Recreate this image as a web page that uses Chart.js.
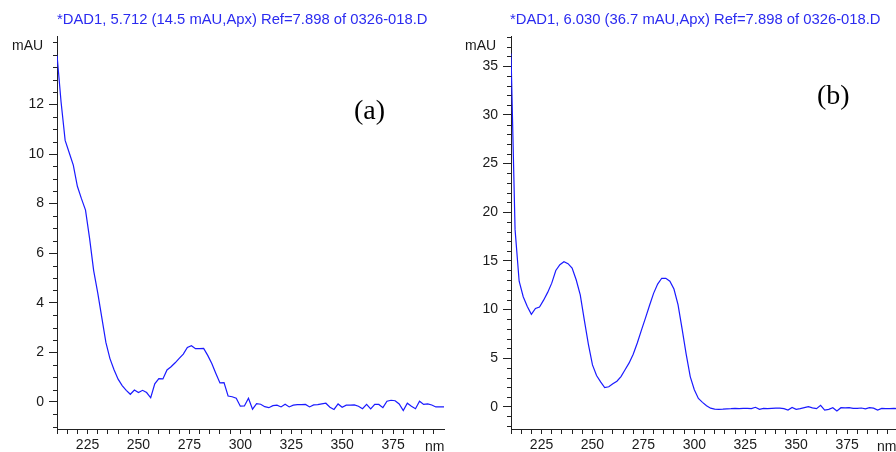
<!DOCTYPE html>
<html>
<head>
<meta charset="utf-8">
<script src="https://cdn.jsdelivr.net/npm/chart.js@4.4.1/dist/chart.umd.min.js"></script>
<style>
  html, body { margin: 0; padding: 0; background: #fff; }
  body {
    position: relative; width: 896px; height: 452px; overflow: hidden;
    font-family: 'Liberation Sans', Arial, sans-serif;
  }
  .panel  { position: absolute; top: 0; height: 452px; }
  .title  { position: absolute; top: 12px; font-size: 14.8px; line-height: 15px; color: #2b2bf0; white-space: nowrap; }
  .unit   { position: absolute; font-size: 14px; line-height: 14px; color: #1a1a1a; }
  .tag    { position: absolute; font-family: 'Liberation Serif', 'Times New Roman', serif; font-size: 28px; line-height: 28px; color: #000; }
</style>
</head>
<body>
  <div class="panel" style="left:0;width:450px"><canvas id="spec-a" width="450" height="452"></canvas></div>
  <div class="panel" style="left:449px;width:453px"><canvas id="spec-b" width="453" height="452"></canvas></div>

  <div class="title" style="left:57px">*DAD1, 5.712 (14.5 mAU,Apx) Ref=7.898 of 0326-018.D</div>
  <div class="title" style="left:510px">*DAD1, 6.030 (36.7 mAU,Apx) Ref=7.898 of 0326-018.D</div>

  <div class="unit" style="left:12px;top:38px">mAU</div>
  <div class="unit" style="left:465px;top:38px">mAU</div>
  <div class="unit" style="left:425px;top:439px">nm</div>
  <div class="unit" style="left:877px;top:439px">nm</div>

  <div class="tag" style="left:354px;top:96px">(a)</div>
  <div class="tag" style="left:817px;top:81px">(b)</div>

<script>
// ── Data ──────────────────────────────────────────────────────

// wavelength grid (nm), shared by both spectra
const wavelengths = [
  210, 212, 214, 216, 218, 220, 222, 224, 226, 228,
  230, 232, 234, 236, 238, 240, 242, 244, 246, 248,
  250, 252, 254, 256, 258, 260, 262, 264, 266, 268,
  270, 272, 274, 276, 278, 280, 282, 284, 286, 288,
  290, 292, 294, 296, 298, 300, 302, 304, 306, 308,
  310, 312, 314, 316, 318, 320, 322, 324, 326, 328,
  330, 332, 334, 336, 338, 340, 342, 344, 346, 348,
  350, 352, 354, 356, 358, 360, 362, 364, 366, 368,
  370, 372, 374, 376, 378, 380, 382, 384, 386, 388,
  390, 392, 394, 396, 398, 400,
];

// (a) spectrum at 5.712 min (mAU)
const absorbanceA = [
  14.0, 12.1, 10.55, 10.05, 9.55, 8.7, 8.2, 7.74, 6.6, 5.3,
  4.4, 3.4, 2.4, 1.75, 1.3, 0.92, 0.66, 0.47, 0.31, 0.48,
  0.38, 0.47, 0.38, 0.17, 0.73, 0.94, 0.93, 1.29, 1.42, 1.58,
  1.76, 1.93, 2.2, 2.27, 2.15, 2.15, 2.16, 1.88, 1.55, 1.15,
  0.77, 0.78, 0.24, 0.21, 0.15, -0.17, -0.16, 0.15, -0.29, -0.07,
  -0.09, -0.19, -0.23, -0.15, -0.13, -0.2, -0.09, -0.2, -0.13, -0.11,
  -0.11, -0.1, -0.2, -0.12, -0.11, -0.08, -0.05, -0.21, -0.3, -0.08,
  -0.21, -0.13, -0.13, -0.12, -0.17, -0.27, -0.1, -0.28, -0.1, -0.1,
  -0.23, 0.03, 0.07, 0.05, -0.08, -0.35, -0.05, -0.17, -0.27, 0.03,
  -0.1, -0.08, -0.12, -0.2, -0.2, -0.2,
];

// (b) spectrum at 6.030 min (mAU)
const absorbanceB = [
  36.3, 18.2, 12.9, 11.3, 10.3, 9.5, 10.1, 10.25, 10.95, 11.75,
  12.7, 14.0, 14.6, 14.9, 14.7, 14.25, 13.05, 11.5, 8.9, 6.4,
  4.3, 3.2, 2.55, 1.97, 2.05, 2.35, 2.62, 3.1, 3.8, 4.5,
  5.4, 6.55, 7.85, 9.1, 10.4, 11.65, 12.6, 13.2, 13.2, 12.9,
  12.1, 10.5, 8.0, 5.4, 3.1, 1.75, 0.85, 0.45, 0.1, -0.15,
  -0.25, -0.27, -0.25, -0.22, -0.2, -0.17, -0.2, -0.17, -0.17, -0.2,
  -0.06, -0.27, -0.17, -0.2, -0.17, -0.15, -0.15, -0.2, -0.34, -0.07,
  -0.27, -0.2, -0.1, 0.0, -0.12, -0.2, 0.14, -0.34, -0.27, -0.1,
  -0.44, -0.1, -0.12, -0.1, -0.17, -0.17, -0.13, -0.22, -0.1, -0.15,
  -0.34, -0.17, -0.2, -0.2, -0.17, -0.2,
];

// labelled ticks
const xTickLabels  = [225, 250, 275, 300, 325, 350, 375];
const yTickLabelsA = [0, 2, 4, 6, 8, 10, 12];
const yTickLabelsB = [0, 5, 10, 15, 20, 25, 30, 35];

// ── Chart setup ───────────────────────────────────────────────

const FONT      = "'Liberation Sans', Arial, sans-serif";
const AXIS_CLR  = '#222';
const LABEL_CLR = '#1a1a1a';
const LINE_CLR  = '#1a1aff';

function stepList(from, to, step) {
  const out = [];
  for (let v = from; v <= to + 1e-9; v += step) out.push(Math.round(v * 1000) / 1000);
  return out;
}

// short unlabelled ticks on the y axis
const minorTicks = {
  id: 'minorTicks',
  afterDraw(chart, args, opts) {
    const s   = chart.scales.y;
    const ctx = chart.ctx;
    const x   = Math.round(chart.chartArea.left) + 0.5;
    ctx.save();
    ctx.strokeStyle = AXIS_CLR;
    ctx.lineWidth   = 1;
    ctx.beginPath();
    for (const v of opts.values) {
      if (opts.major.includes(v)) continue;
      const y = Math.round(s.getPixelForValue(v)) + 0.5;
      ctx.moveTo(x - 4.5, y);
      ctx.lineTo(x, y);
    }
    ctx.stroke();
    ctx.restore();
  },
};

function drawSpectrum(canvasId, values, y) {
  const yValues = stepList(y.firstTick, y.max, y.minor);

  return new Chart(document.getElementById(canvasId), {
    type: 'line',
    data: {
      datasets: [{
        data:        wavelengths.map((w, i) => ({ x: w, y: values[i] })),
        borderColor: LINE_CLR,
        borderWidth: 1.2,
        pointRadius: 0,
        tension:     0,
      }],
    },
    plugins: [minorTicks],
    options: {
      responsive: false,
      animation:  false,
      devicePixelRatio: 1,
      layout: { padding: { top: 36, right: y.padRight, left: 0, bottom: 0 } },
      plugins: {
        legend:  { display: false },
        tooltip: { enabled: false },
        minorTicks: { values: yValues, major: y.labels },
      },
      scales: {
        x: {
          type: 'linear',
          min: 210,
          max: 400,
          afterBuildTicks: s => { s.ticks = stepList(210, 395, 5).map(v => ({ value: v })); },
          afterFit: s => { s.height = 23; },
          grid:   { drawOnChartArea: false, tickLength: 5, tickColor: AXIS_CLR },
          border: { color: AXIS_CLR, width: 1 },
          ticks: {
            autoSkip: false, maxRotation: 0, padding: 3,
            color: LABEL_CLR, font: { family: FONT, size: 14 },
            callback: v => xTickLabels.includes(v) ? String(v) : '',
          },
        },
        y: {
          type: 'linear',
          min: y.min,
          max: y.max,
          afterBuildTicks: s => { s.ticks = yValues.map(v => ({ value: v })); },
          afterFit: s => { s.width = y.axisWidth; },
          grid: {
            drawOnChartArea: false,
            tickLength: 8,
            tickColor: c => y.labels.includes(c.tick.value) ? AXIS_CLR : 'rgba(0,0,0,0)',
          },
          border: { color: AXIS_CLR, width: 1 },
          ticks: {
            autoSkip: false, padding: 5,
            color: LABEL_CLR, font: { family: FONT, size: 14 },
            callback: v => y.labels.includes(v) ? String(v) : '',
          },
        },
      },
    },
  });
}

drawSpectrum('spec-a', absorbanceA, {
  min: -1.09, max: 14.76, firstTick: -1, minor: 0.5,
  labels: yTickLabelsA, axisWidth: 57, padRight: 6,
});

drawSpectrum('spec-b', absorbanceB, {
  min: -2.29, max: 38.1, firstTick: -2, minor: 1,
  labels: yTickLabelsB, axisWidth: 62, padRight: 4,
});
</script>
</body>
</html>
